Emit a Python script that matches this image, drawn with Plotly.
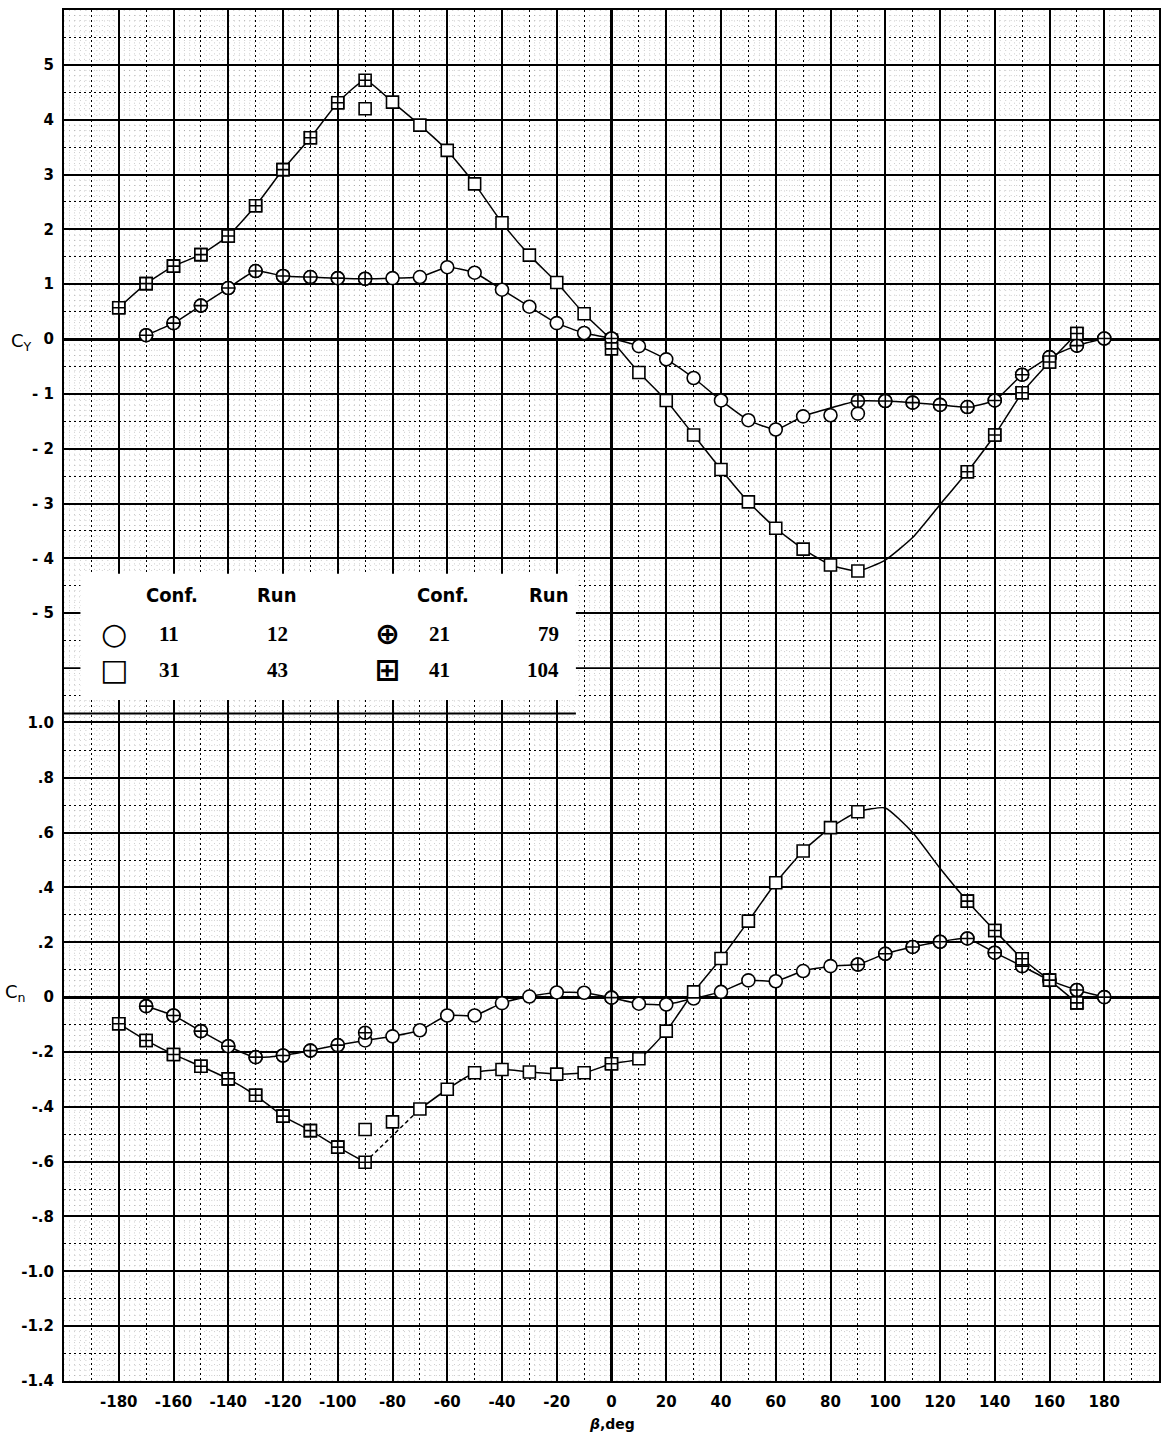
import plotly.graph_objects as go
from plotly.subplots import make_subplots

# ---------------- data ----------------
# side-force coefficient C_Y
BETA_CONF11 = list(range(-170, 181, 10))
CY_CONF11 = [0.07, 0.29, 0.61, 0.93, 1.24, 1.15, 1.13, 1.11, 1.10, 1.11, 1.13, 1.31,
             1.21, 0.90, 0.59, 0.29, 0.11, 0.01, -0.13, -0.37, -0.71, -1.12, -1.48,
             -1.65, -1.41, -1.39, -1.36, -1.13, -1.16, -1.20, -1.24, -1.12, -0.65,
             -0.33, -0.12, 0.01]
BETA_CONF21 = [-170, -160, -150, -140, -130, -120, -110, -100, -90, 0,
               90, 100, 110, 120, 130, 140, 150, 160, 170, 180]
CY_CONF21 = [0.07, 0.29, 0.61, 0.93, 1.24, 1.15, 1.13, 1.11, 1.10, 0.01,
             -1.13, -1.13, -1.16, -1.20, -1.24, -1.12, -0.65, -0.33, -0.12, 0.01]
BETA_CONF31 = list(range(-180, 91, 10)) + [130, 140, 150, 160, 170]
CY_CONF31 = [0.57, 1.01, 1.33, 1.54, 1.88, 2.43, 3.09, 3.67, 4.31, 4.20, 4.32, 3.90,
             3.44, 2.83, 2.12, 1.53, 1.03, 0.46, -0.02, -0.61, -1.12, -1.75, -2.38,
             -2.97, -3.45, -3.83, -4.12, -4.23, -2.42, -1.75, -0.98, -0.42, 0.10]
BETA_CONF41 = [-180, -170, -160, -150, -140, -130, -120, -110, -100, -90, 0,
               130, 140, 150, 160, 170]
CY_CONF41 = [0.57, 1.01, 1.33, 1.54, 1.88, 2.43, 3.09, 3.67, 4.31, 4.72, -0.18,
             -2.42, -1.75, -0.98, -0.42, 0.10]

# yawing-moment coefficient C_n
CN_CONF11 = [-0.033, -0.067, -0.124, -0.179, -0.219, -0.213, -0.195, -0.175, -0.158,
             -0.143, -0.121, -0.067, -0.067, -0.022, 0.002, 0.017, 0.016, -0.002,
             -0.024, -0.027, -0.005, 0.019, 0.061, 0.058, 0.095, 0.113, 0.119, 0.158,
             0.183, 0.202, 0.214, 0.162, 0.113, 0.062, 0.026, 0.0]
CN_CONF21 = [-0.033, -0.067, -0.124, -0.179, -0.219, -0.213, -0.195, -0.175, -0.130,
             -0.002, 0.119, 0.158, 0.183, 0.202, 0.214, 0.162, 0.113, 0.062, 0.026, 0.0]
CN_CONF31 = [-0.097, -0.158, -0.209, -0.252, -0.298, -0.358, -0.434, -0.487, -0.547,
             -0.483, -0.455, -0.408, -0.336, -0.276, -0.264, -0.273, -0.281, -0.276,
             -0.243, -0.225, -0.124, 0.019, 0.141, 0.277, 0.417, 0.533, 0.618, 0.676,
             0.350, 0.243, 0.140, 0.062, -0.021]
CN_CONF41 = [-0.097, -0.158, -0.209, -0.252, -0.298, -0.358, -0.434, -0.487, -0.547,
             -0.602, -0.243, 0.350, 0.243, 0.140, 0.062, -0.021]

# faired curve through the span without test points (conf 31/41)
BETA_FAIR_GAP = [100, 110, 120]
CY_FAIR_GAP = [-4.03, -3.62, -3.02]
CN_FAIR_GAP = [0.69, 0.60, 0.47]

# ticks
X_TICKS = list(range(-180, 181, 20))
X_TICKTEXT = [str(v) for v in X_TICKS]
CY_TICKS = list(range(-5, 6))
CY_TICKTEXT = ["- 5", "- 4", "- 3", "- 2", "- 1", "0", "1", "2", "3", "4", "5"]
CY_EXTRA_GRID = [-6]
CN_TICKS = [round(-1.4 + 0.2 * i, 1) for i in range(13)]
CN_TICKTEXT = ["-1.4", "-1.2", "-1.0", "-.8", "-.6", "-.4", "-.2", "0",
               ".2", ".4", ".6", ".8", "1.0"]

LEGEND_ROWS = [("○", "11", "12", "⊕", "21", "79"),
               ("□", "31", "43", "⊞", "41", "104")]


def fair(beta_a, val_a, beta_b, val_b, use_b=(), skip=(), extra_b=(), extra_v=()):
    pts = dict(zip(beta_a, val_a))
    bmap = dict(zip(beta_b, val_b))
    for b in use_b:
        pts[b] = bmap[b]
    for b in skip:
        pts.pop(b, None)
    pts.update(zip(extra_b, extra_v))
    xs = sorted(pts)
    return xs, [pts[x] for x in xs]


fig = make_subplots(rows=2, cols=1, shared_xaxes=True, vertical_spacing=0,
                    row_heights=[13, 12])

LINE = dict(color="black", width=1.5, shape="spline", smoothing=0.5)


def add_line(xs, ys, row, dash="solid"):
    fig.add_trace(go.Scatter(x=xs, y=ys, mode="lines", showlegend=False, hoverinfo="skip",
                             line=dict(LINE, dash=dash)), row=row, col=1)


def add_marks(xs, ys, row, symbol, size):
    fig.add_trace(go.Scatter(x=xs, y=ys, mode="markers", showlegend=False,
                             marker=dict(symbol=symbol, size=size, color="white",
                                         line=dict(color="black", width=1.6))),
                  row=row, col=1)


# --- C_Y faired curves
bx, by = fair(BETA_CONF11, CY_CONF11, BETA_CONF21, CY_CONF21, use_b=[90], skip=[80])
add_line(bx, by, 1)
bx, by = fair(BETA_CONF31, CY_CONF31, BETA_CONF41, CY_CONF41, use_b=[-90],
              extra_b=BETA_FAIR_GAP, extra_v=CY_FAIR_GAP)
add_line(bx, by, 1)
# --- C_n faired curves
bx, by = fair(BETA_CONF11, CN_CONF11, BETA_CONF21, CN_CONF21)
add_line(bx, by, 2)
bx, by = fair(BETA_CONF31, CN_CONF31, BETA_CONF41, CN_CONF41, use_b=[-90], skip=[-80],
              extra_b=BETA_FAIR_GAP, extra_v=CN_FAIR_GAP)
seg1 = [(x, y) for x, y in zip(bx, by) if x <= -90]
seg2 = [(x, y) for x, y in zip(bx, by) if -90 <= x <= -70]
seg3 = [(x, y) for x, y in zip(bx, by) if x >= -70]
for seg, d in ((seg1, "solid"), (seg2, "4px,3px"), (seg3, "solid")):
    add_line([p[0] for p in seg], [p[1] for p in seg], 2, d)

# --- symbols
add_marks(BETA_CONF11, CY_CONF11, 1, "circle", 13)
add_marks(BETA_CONF31, CY_CONF31, 1, "square", 12)
add_marks(BETA_CONF21, CY_CONF21, 1, "circle-cross", 13)
add_marks(BETA_CONF41, CY_CONF41, 1, "square-cross", 12)
add_marks(BETA_CONF11, CN_CONF11, 2, "circle", 13)
add_marks(BETA_CONF31, CN_CONF31, 2, "square", 12)
add_marks(BETA_CONF21, CN_CONF21, 2, "circle-cross", 13)
add_marks(BETA_CONF41, CN_CONF41, 2, "square-cross", 12)

# ---------------- axes / grid ----------------
TICKFONT = dict(family="DejaVu Sans", size=15, color="black", weight="bold")
X_MINOR = list(range(-190, 200, 20))


def xstyle(labels, side, mirror):
    return dict(range=[-200, 200], tickmode="array", tickvals=X_TICKS, ticktext=X_TICKTEXT,
                showticklabels=labels, ticks="", tickfont=TICKFONT, ticklabelstandoff=6,
                side=side,
                showgrid=True, gridcolor="black", gridwidth=1.6,
                zeroline=True, zerolinecolor="black", zerolinewidth=3,
                showline=True, mirror=mirror, linecolor="black", linewidth=2,
                minor=dict(tickmode="array", tickvals=X_MINOR, showgrid=True,
                           gridcolor="black", gridwidth=1, griddash="2px,3px"))


def ystyle(rng, tv, tt, minor):
    return dict(range=rng, tickmode="array", tickvals=tv, ticktext=tt, ticks="",
                tickfont=TICKFONT, ticklabelstandoff=5,
                showgrid=True, gridcolor="black", gridwidth=1.6,
                zeroline=True, zerolinecolor="black", zerolinewidth=3,
                showline=True, mirror=True, linecolor="black", linewidth=2,
                minor=dict(tickmode="array", tickvals=minor, showgrid=True,
                           gridcolor="black", gridwidth=1, griddash="2px,3px"))


fig.update_layout(
    xaxis=xstyle(False, "top", False), xaxis2=xstyle(True, "bottom", True),
    yaxis=ystyle([-7, 6], CY_TICKS, CY_TICKTEXT, [v + 0.5 for v in range(-7, 6)]),
    yaxis2=ystyle([-1.4, 1.0], CN_TICKS, CN_TICKTEXT,
                  [round(-1.3 + 0.2 * i, 1) for i in range(12)]),
)

# unlabeled major grid line(s) of the C_Y scale
for yv in CY_EXTRA_GRID:
    fig.add_shape(type="line", xref="paper", yref="y", x0=0, x1=1, y0=yv, y1=yv,
                  line=dict(color="black", width=1.6), layer="below")

# fine (faint, dotted) graph-paper grid
vx = [x for x in range(-198, 200, 2) if x % 10 != 0]
path_v = " ".join(f"M{x},0 L{x},1" for x in vx)
hy1 = [round(-7 + 0.1 * i, 2) for i in range(1, 130) if i % 5 != 0]
path_h1 = " ".join(f"M0,{y} L1,{y}" for y in hy1)
hy2 = [round(-1.4 + 0.02 * i, 3) for i in range(1, 120) if i % 5 != 0]
path_h2 = " ".join(f"M0,{y} L1,{y}" for y in hy2)
FINE = dict(color="rgba(0,0,0,0.2)", width=1, dash="1px,4px")
fig.add_shape(type="path", path=path_v, xref="x", yref="paper", line=FINE, layer="below")
fig.add_shape(type="path", path=path_h1, xref="paper", yref="y", line=FINE, layer="below")
fig.add_shape(type="path", path=path_h2, xref="paper", yref="y2", line=FINE, layer="below")

# ---------------- legend box ----------------
fig.add_shape(type="rect", xref="x", yref="y", x0=-194, x1=-13, y0=-6.58, y1=-4.28,
              fillcolor="white", line=dict(width=0), layer="above")
fig.add_shape(type="line", xref="x", yref="y", x0=-200, x1=-13, y0=-6.83, y1=-6.83,
              line=dict(color="black", width=2), layer="above")

HEAD = dict(family="DejaVu Sans Condensed, DejaVu Sans", size=20, color="black",
            weight="bold")
NUM = dict(family="Liberation Serif", size=21, color="black", weight="bold")
SYM = dict(family="DejaVu Sans", size=30, color="black", weight="bold")


def ann(x, y, text, font, **kw):
    fig.add_annotation(x=x, y=y, xref="x", yref="y", text=text, showarrow=False,
                       font=font, **kw)


for x, t in ((-160.4, "Conf."), (-122.2, "Run"), (-61.6, "Conf."), (-23.0, "Run")):
    ann(x, -4.66, t, HEAD)
for row, yv in zip(LEGEND_ROWS, (-5.37, -6.03)):
    s1, c1, r1, s2, c2, r2 = row
    ann(-181.6, yv, s1, SYM)
    ann(-161.5, yv, c1, NUM)
    ann(-117.5, yv, r1, NUM, xanchor="right")
    ann(-81.7, yv, s2, SYM)
    ann(-62.7, yv, c2, NUM)
    ann(-18.5, yv, r2, NUM, xanchor="right")

# ---------------- axis titles ----------------
fig.add_annotation(xref="paper", x=0, yref="y", y=0, xshift=-30, yshift=-3, xanchor="right",
                   text="C<sub>Y</sub>", showarrow=False,
                   font=dict(family="DejaVu Sans", size=18, color="black"))
fig.add_annotation(xref="paper", x=0, yref="y2", y=0, xshift=-36, yshift=4, xanchor="right",
                   text="C<sub>n</sub>", showarrow=False,
                   font=dict(family="DejaVu Sans", size=18, color="black"))
fig.add_annotation(xref="x2", x=0, yref="paper", y=0, yshift=-43, yanchor="middle",
                   text="<i>β</i>,deg", showarrow=False,
                   font=dict(family="DejaVu Sans", size=14, color="black", weight="bold"))

fig.update_layout(width=1162, height=1441, margin=dict(l=64, r=1, t=8, b=60),
                  plot_bgcolor="white", paper_bgcolor="white", showlegend=False)

fig.write_html("out.html")
